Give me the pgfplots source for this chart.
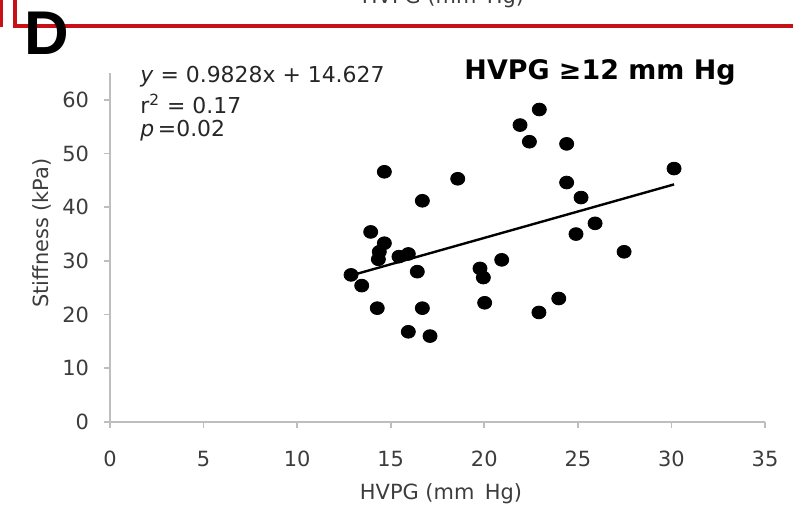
\documentclass[border=0pt]{standalone}
\usepackage{pgfplots}
\pgfplotsset{compat=1.18}
\usepackage{fontspec}
\setmainfont{DejaVu Sans}
\newfontfamily\arialfont{Liberation Sans}
\definecolor{boxred}{RGB}{200,16,24}
\definecolor{axisgray}{RGB}{190,190,190}
\definecolor{labelgray}{RGB}{60,60,60}

\begin{document}
\begin{tikzpicture}[x=0.5bp,y=0.5bp]
% page frame in pixels of the reference (origin bottom left)
\useasboundingbox (0,0) rectangle (793,508);

% red panel frame above and the cut-off label of the panel above
\node[anchor=base, text=labelgray, font=\fontsize{10.5}{12}\selectfont] at (443,504) {HVPG (mm\enspace Hg)};
\draw[boxred, line width=2bp] (15,508) -- (15,482) -- (793,482);
\draw[boxred, line width=2bp] (1,508) -- (1,481);

% panel letter
\node[anchor=base west, inner sep=0pt, font=\arialfont\bfseries\fontsize{31}{34}\selectfont] at (24,453) {D};

\begin{axis}[
    at={(55bp,43bp)}, anchor=south west,
    scale only axis,
    width=327.5bp, height=174.5bp,
    xmin=0, xmax=35, ymin=0, ymax=65,
    xtick={0,5,...,35}, ytick={0,10,...,60},
    axis lines*=left,
    axis line style={axisgray, line width=0.9bp},
    tick style={axisgray, line width=0.8bp},
    tick align=outside,
    major tick length=3bp,
    ticklabel style={text=labelgray, font=\fontsize{10.5}{12}\selectfont},
    /pgf/number format/assume math mode=true,
    xticklabel style={yshift=-8bp},
    yticklabel style={xshift=-4bp},
    clip=false,
]
% measurements
\addplot[only marks, mark=*, mark size=3.2bp, black,
    mark options={xscale=1.1}] coordinates {
    (12.88,27.4) (13.45,25.4) (13.93,35.4) (14.66,46.6) (14.66,33.3)
    (14.39,31.7) (14.34,30.3) (14.28,21.2) (15.44,30.8) (15.94,31.3)
    (16.42,28.0) (16.69,41.2) (16.69,21.2) (15.94,16.8) (17.10,16.0)
    (18.58,45.3) (19.77,28.6) (19.95,26.9) (20.02,22.2) (20.93,30.2)
    (21.91,55.3) (22.41,52.2) (22.94,58.2) (22.92,20.4) (23.98,23.0)
    (24.40,51.8) (24.40,44.6) (25.17,41.8) (24.90,35.0) (25.92,37.0)
    (27.47,31.7) (30.14,47.2)
};
% linear fit
\addplot[black, line width=1.2bp] coordinates {(12.88,27.29) (30.14,44.25)};
\end{axis}

% axis titles
\node[text=labelgray, font=\fontsize{10.5}{12}\selectfont] at (441,14) {HVPG (mm\enspace Hg)};
\node[rotate=90, text=labelgray, font=\fontsize{10.5}{12}\selectfont] at (42,275) {Stiffness (kPa)};

% panel title and fit statistics
\node[font=\bfseries\fontsize{13.5}{15}\selectfont] at (600,436) {HVPG ≥12 mm Hg};
\node[anchor=west, inner sep=0pt, text=black!85, font=\fontsize{11}{12}\selectfont] at (140,431) {\textit{y} = 0.9828x + 14.627};
\node[anchor=west, inner sep=0pt, text=black!85, font=\fontsize{11}{12}\selectfont] at (140,404) {r\textsuperscript{2} = 0.17};
\node[anchor=west, inner sep=0pt, text=black!85, font=\fontsize{11}{12}\selectfont] at (140,377) {\textit{p}\,=0.02};
\end{tikzpicture}
\end{document}
